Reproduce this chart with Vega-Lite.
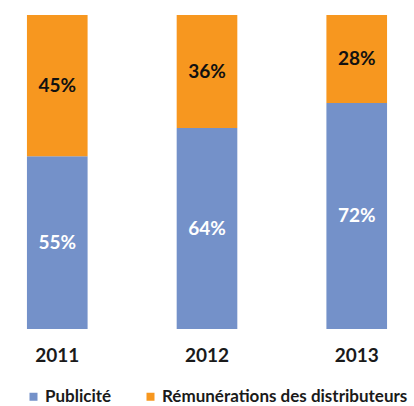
{
  "$schema": "https://vega.github.io/schema/vega-lite/v6.json",
  "width": 414,
  "height": 314,
  "autosize": {"type": "none"},
  "padding": {"left": 0, "top": 15, "right": 0, "bottom": 77},
  "background": "white",
  "config": {"view": {"stroke": null}, "font": "Lato"},
  "data": {
    "values": [
      {"year": "2011", "series": "Publicité", "value": 55, "label": "55%"},
      {"year": "2011", "series": "Rémunérations des distributeurs", "value": 45, "label": "45%"},
      {"year": "2012", "series": "Publicité", "value": 64, "label": "64%"},
      {"year": "2012", "series": "Rémunérations des distributeurs", "value": 36, "label": "36%"},
      {"year": "2013", "series": "Publicité", "value": 72, "label": "72%"},
      {"year": "2013", "series": "Rémunérations des distributeurs", "value": 28, "label": "28%"}
    ]
  },
  "encoding": {
    "x": {
      "field": "year",
      "type": "nominal",
      "scale": {"paddingInner": 0.595, "paddingOuter": 0.18},
      "axis": {
        "title": null,
        "domain": false,
        "ticks": false,
        "labelAngle": 0,
        "labelFont": "Lato",
        "labelFontSize": 19,
        "labelFontWeight": "bold",
        "labelColor": "#1a1a1a",
        "labelPadding": 17
      }
    }
  },
  "layer": [
    {
      "mark": {"type": "bar"},
      "encoding": {
        "y": {
          "field": "value",
          "type": "quantitative",
          "stack": "zero",
          "scale": {"domain": [0, 100]},
          "axis": null
        },
        "color": {
          "field": "series",
          "type": "nominal",
          "scale": {
            "domain": ["Publicité", "Rémunérations des distributeurs"],
            "range": ["#7491C9", "#F7971F"]
          },
          "legend": {
            "title": null,
            "orient": "none",
            "direction": "horizontal",
            "legendX": 25,
            "legendY": 373,
            "symbolType": "square",
            "symbolSize": 64,
            "symbolStrokeWidth": 0,
            "labelFont": "Lato",
            "labelFontSize": 17,
            "labelFontWeight": "bold",
            "labelColor": "#1a1a1a",
            "labelOffset": 3,
            "labelLimit": 0,
            "columnPadding": 30
          }
        },
        "order": {"field": "series", "sort": "ascending"}
      }
    },
    {
      "mark": {"type": "text", "fontSize": 19, "fontWeight": "bold", "font": "Lato", "baseline": "middle"},
      "encoding": {
        "y": {
          "field": "value",
          "type": "quantitative",
          "stack": "zero",
          "bandPosition": 0.5
        },
        "detail": {"field": "series"},
        "order": {"field": "series", "sort": "ascending"},
        "text": {"field": "label"},
        "fill": {
          "condition": {"test": "datum.series === 'Publicité'", "value": "white"},
          "value": "#111111"
        }
      }
    }
  ]
}
